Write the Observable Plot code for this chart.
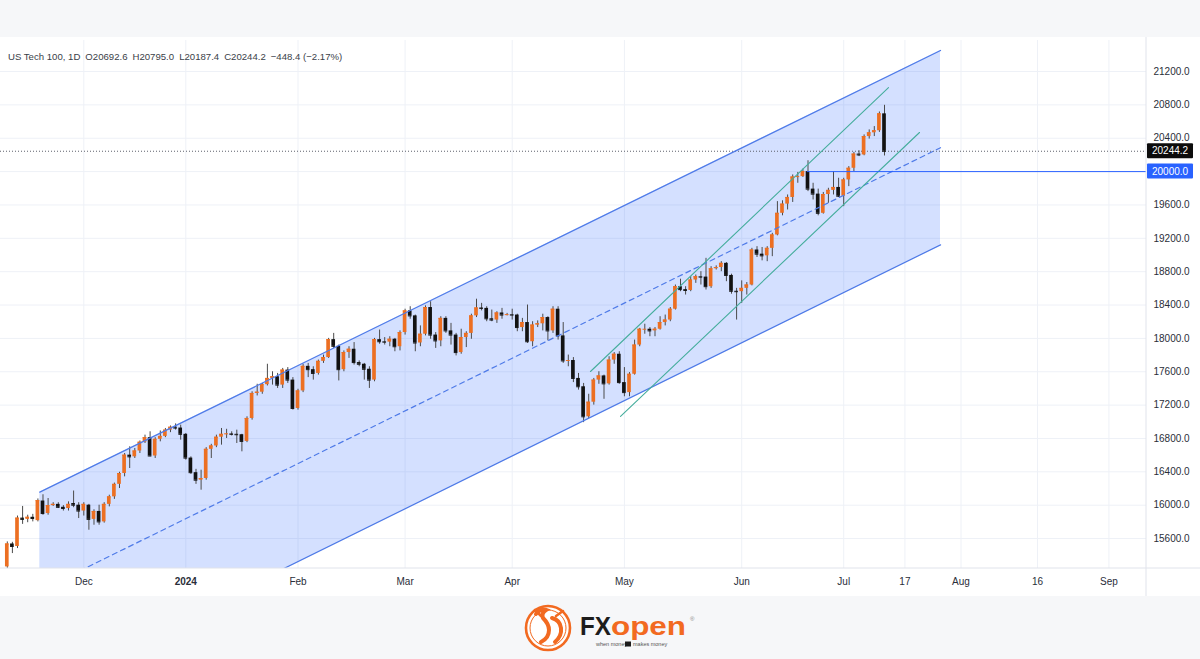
<!DOCTYPE html>
<html>
<head>
<meta charset="utf-8">
<script src="https://cdn.jsdelivr.net/npm/d3@7"></script>
<script src="https://cdn.jsdelivr.net/npm/@observablehq/plot@0.6"></script>
<style>
  html, body { margin: 0; padding: 0; }
  body { width: 1200px; height: 659px; overflow: hidden; background: #f6f7f9; font-family: "Liberation Sans", Arial, sans-serif; }
  #top { height: 37px; }
  #panel { position: relative; height: 559px; background: #ffffff; }
  #title { position: absolute; left: 8px; top: 14px; font-size: 9.6px; color: #3a3e48; white-space: pre; }
  #title span { margin-right: 5px; }
  #bottom { position: relative; height: 63px; }
</style>
</head>
<body>
<div id="top"></div>
<div id="panel">
  <div id="chart"></div>
  <div id="title"></div>
</div>
<div id="bottom">
  <svg width="1200" height="63" viewBox="0 0 1200 63">
    <g>
      <circle cx="548" cy="32" r="22" fill="#ffffff" stroke="#f26a21" stroke-width="2.6"/>
      <circle cx="548" cy="32" r="18" fill="none" stroke="#f26a21" stroke-width="1"/>
      <path d="M536 18 q4 -6 10 -4 q-5 3 -3 8 q6 6 6 12 q0 8 -8 12" fill="none" stroke="#f26a21" stroke-width="4" stroke-linecap="round"/>
      <path d="M552 22 q8 2 9 10 q1 8 -6 14" fill="none" stroke="#f26a21" stroke-width="4" stroke-linecap="round"/>
      <path d="M541 20 l-6 -6 M556 20 l7 -5" stroke="#f26a21" stroke-width="2.5" stroke-linecap="round"/>
    </g>
    <text x="580" y="39" font-family="Liberation Sans, Arial, sans-serif" font-weight="700" font-size="25" fill="#1c1c1c" textLength="31" lengthAdjust="spacingAndGlyphs">FX</text>
    <text x="611" y="39" font-family="Liberation Sans, Arial, sans-serif" font-weight="700" font-size="25" fill="#f26a21" textLength="75" lengthAdjust="spacingAndGlyphs">open</text>
    <text x="690" y="25" font-family="Liberation Sans, Arial, sans-serif" font-size="6" fill="#888">®</text>
    <text x="596" y="50" font-family="Liberation Sans, Arial, sans-serif" font-size="5.5" fill="#555">when money</text>
    <rect x="625" y="45.5" width="6" height="5" fill="#1c1c1c"/>
    <text x="633" y="50" font-family="Liberation Sans, Arial, sans-serif" font-size="5.5" fill="#555">makes money</text>
  </svg>
</div>
<script>
// ---------------- data ----------------
const titleParts = ["US Tech 100, 1D", "O20692.6", "H20795.0", "L20187.4", "C20244.2", "\u2212448.4 (\u22122.17%)"];

const dates = [
"2023-11-10","2023-11-13","2023-11-14","2023-11-15","2023-11-16","2023-11-17","2023-11-20","2023-11-21","2023-11-22","2023-11-23","2023-11-24","2023-11-27","2023-11-28","2023-11-29","2023-11-30",
"2023-12-01","2023-12-04","2023-12-05","2023-12-06","2023-12-07","2023-12-08","2023-12-11","2023-12-12","2023-12-13","2023-12-14","2023-12-15","2023-12-18","2023-12-19","2023-12-20","2023-12-21","2023-12-22","2023-12-26","2023-12-27","2023-12-28","2023-12-29",
"2024-01-02","2024-01-03","2024-01-04","2024-01-05","2024-01-08","2024-01-09","2024-01-10","2024-01-11","2024-01-12","2024-01-15","2024-01-16","2024-01-17","2024-01-18","2024-01-19","2024-01-22","2024-01-23","2024-01-24","2024-01-25","2024-01-26","2024-01-29","2024-01-30","2024-01-31",
"2024-02-01","2024-02-02","2024-02-05","2024-02-06","2024-02-07","2024-02-08","2024-02-09","2024-02-12","2024-02-13","2024-02-14","2024-02-15","2024-02-16","2024-02-19","2024-02-20","2024-02-21","2024-02-22","2024-02-23","2024-02-26","2024-02-27","2024-02-28","2024-02-29",
"2024-03-01","2024-03-04","2024-03-05","2024-03-06","2024-03-07","2024-03-08","2024-03-11","2024-03-12","2024-03-13","2024-03-14","2024-03-15","2024-03-18","2024-03-19","2024-03-20","2024-03-21","2024-03-22","2024-03-25","2024-03-26","2024-03-27","2024-03-28","2024-03-29",
"2024-04-01","2024-04-02","2024-04-03","2024-04-04","2024-04-05","2024-04-08","2024-04-09","2024-04-10","2024-04-11","2024-04-12","2024-04-15","2024-04-16","2024-04-17","2024-04-18","2024-04-19","2024-04-22","2024-04-23","2024-04-24","2024-04-25","2024-04-26","2024-04-29","2024-04-30",
"2024-05-01","2024-05-02","2024-05-03","2024-05-06","2024-05-07","2024-05-08","2024-05-09","2024-05-10","2024-05-13","2024-05-14","2024-05-15","2024-05-16","2024-05-17","2024-05-20","2024-05-21","2024-05-22","2024-05-23","2024-05-24","2024-05-27","2024-05-28","2024-05-29","2024-05-30","2024-05-31",
"2024-06-03","2024-06-04","2024-06-05","2024-06-06","2024-06-07","2024-06-10","2024-06-11","2024-06-12","2024-06-13","2024-06-14","2024-06-17","2024-06-18","2024-06-19","2024-06-20","2024-06-21","2024-06-24","2024-06-25","2024-06-26","2024-06-27","2024-06-28",
"2024-07-01","2024-07-02","2024-07-03","2024-07-04","2024-07-05","2024-07-08","2024-07-09","2024-07-10","2024-07-11"];

const opens = [
15260,15535,15505,15845,15830,15855,15815,16050,15900,15995,16010,15975,15960,16020,16000,
15930,16000,15830,15925,15800,16010,16100,16250,16380,16600,16580,16650,16755,16810,16590,16790,16825,16900,16935,16925,
16850,16565,16390,16300,16320,16670,16710,16815,16850,16855,16850,16845,16765,17040,17340,17355,17445,17520,17540,17440,17620,17500,
17160,17370,17665,17625,17580,17725,17770,17985,17905,17625,17830,17870,17710,17690,17630,17500,17985,17960,17955,17990,17900,
18070,18330,18270,17945,18050,18370,18040,17970,18240,18090,18040,17830,18010,18060,18270,18365,18360,18235,18220,18305,18280,
18285,18280,18130,18190,17960,18160,18175,18250,18090,18350,18030,17730,17735,17520,17420,17060,17235,17500,17550,17455,17740,17810,
17470,17350,17570,17920,18110,18110,18090,18110,18190,18220,18350,18620,18585,18575,18700,18740,18735,18620,18835,18850,18900,18755,18565,
18560,18600,18640,19060,19010,18990,19080,19240,19500,19610,19690,19935,19940,20000,19790,19730,19500,19725,19775,19810,
19705,19900,20040,20210,20200,20420,20465,20490,20692.6];

const highs = [
15560,15555,15870,15985,15880,15890,16075,16125,16080,16030,16030,15995,16040,16170,16030,
16030,16010,15945,16000,16030,16120,16265,16395,16620,16700,16680,16770,16840,16880,16810,16890,16920,16950,16975,16960,
16860,16580,16430,16420,16690,16730,16840,16920,16910,16880,16900,16850,17060,17360,17450,17460,17690,17600,17580,17640,17650,17530,
17390,17690,17700,17660,17740,17800,18000,18060,17920,17850,17900,17950,17730,17700,17660,18000,18100,18010,18020,18000,18090,
18350,18380,18280,18150,18390,18440,18070,18260,18260,18180,18060,18110,18080,18290,18470,18420,18380,18340,18320,18360,18300,
18350,18290,18240,18400,18200,18210,18290,18260,18380,18380,18190,17800,17770,17580,17460,17330,17520,17600,17560,17780,17830,17840,
17650,17590,17980,18120,18170,18130,18130,18260,18280,18370,18640,18710,18620,18740,18760,18800,18960,18860,18870,18920,18910,18770,18600,
18690,18670,19080,19100,19090,19100,19260,19640,19650,19720,19960,19990,20030,20130,19860,19790,19750,19800,20000,19920,
19920,20060,20230,20250,20440,20500,20540,20715,20795.0];

const lows = [
15240,15420,15480,15770,15790,15800,15800,15880,15880,15985,15960,15930,15930,15970,15840,
15870,15700,15760,15760,15785,15980,16070,16200,16340,16440,16560,16620,16740,16580,16560,16760,16810,16870,16900,16780,
16540,16370,16250,16180,16300,16560,16690,16720,16800,16830,16740,16640,16750,17020,17310,17330,17430,17440,17400,17400,17460,17140,
17140,17350,17530,17500,17560,17700,17760,17880,17490,17600,17760,17680,17660,17500,17400,17480,17930,17920,17900,17840,17850,
18040,18230,17840,17900,18030,17990,17880,17900,18060,17920,17790,17810,17890,17990,18250,18330,18200,18200,18180,18230,18270,
18220,18080,18080,17940,17900,18130,18090,17970,18060,17980,17700,17660,17470,17380,16990,17040,17200,17450,17270,17440,17690,17450,
17300,17300,17560,17900,18050,18020,18020,18100,18150,18200,18340,18560,18520,18560,18660,18640,18580,18600,18820,18800,18680,18530,18220,
18420,18520,18630,18970,18930,18920,18980,19230,19470,19540,19630,19860,19930,19760,19660,19470,19490,19620,19720,19690,
19580,19820,20000,20180,20190,20390,20420,20470,20187.4];

const closes = [
15535,15505,15845,15830,15855,15840,16055,15900,15995,16010,15975,15960,16010,16000,15930,
16010,15830,15925,15800,16010,16100,16250,16380,16600,16580,16650,16755,16810,16590,16790,16825,16900,16935,16925,16850,
16565,16390,16300,16320,16670,16710,16815,16850,16855,16850,16845,16765,17040,17340,17355,17445,17520,17540,17440,17620,17500,17160,
17370,17665,17625,17580,17725,17770,17985,17905,17625,17830,17870,17710,17690,17630,17500,17985,17960,17955,17990,17900,18070,
18330,18270,17945,18050,18370,18040,17970,18240,18090,18040,17830,18010,18060,18270,18365,18360,18235,18220,18305,18280,18285,
18280,18130,18190,17960,18160,18175,18250,18090,18350,18030,17730,17735,17520,17420,17060,17235,17500,17550,17455,17740,17810,17470,
17350,17570,17920,18110,18110,18090,18110,18190,18220,18350,18620,18585,18575,18700,18740,18735,18620,18835,18850,18900,18755,18565,18560,
18600,18640,19060,19010,18990,19080,19240,19500,19610,19690,19935,19940,20000,19790,19730,19500,19725,19775,19810,19705,
19900,20040,20210,20200,20420,20465,20490,20692.6,20244.2];

// bar index of the first candle (2023-11-10); 2023-11-14 is bar 0
const firstBar = -2;

// time-axis labels and the bar index each one sits on
const xTickLabels = ["Dec", "2024", "Feb", "Mar", "Apr", "May", "Jun", "Jul", "17", "Aug", "16", "Sep"];
const xTickBars   = [13, 33, 55, 76, 97, 119, 142, 162, 174, 185, 200, 214];

// price-axis ticks
const yTicks = [15600, 16000, 16400, 16800, 17200, 17600, 18000, 18400, 18800, 19200, 19600, 20000, 20400, 20800, 21200];

// drawings: parallel channel (bar index, price)
const channelBars  = [4.37, 180.98];
const channelUpper = [16156, 21452];
const channelLower = [13798, 19122];
const channelMid   = [14977, 20287];

// drawings: two green trend lines
const trendABars = [112.35, 170.78];
const trendA     = [17603, 21008];
const trendBBars = [118.24, 176.86];
const trendB     = [17064, 20469];

// horizontal level and last price
const levelPrice = 20000;
const levelStartBar = 154.9;
const lastPrice = 20244.2;

// ---------------- build ----------------
document.getElementById("title").innerHTML = titleParts.map(t => `<span>${t}</span>`).join("");

const bars = dates.map((d, k) => ({i: k + firstBar, date: d, o: opens[k], h: highs[k], l: lows[k], c: closes[k]}));
const channel = channelBars.map((b, k) => ({i: b, upper: channelUpper[k], lower: channelLower[k], mid: channelMid[k]}));
const tA = trendABars.map((b, k) => ({i: b, v: trendA[k]}));
const tB = trendBBars.map((b, k) => ({i: b, v: trendB[k]}));

const UP = "#ec6f22", DOWN = "#121212", WICK = "#4a4a4a";
const xDomain = [-3.333, 221.37];
const halfW = 0.36;

const chart = Plot.plot({
  width: 1200,
  height: 559,
  marginLeft: 0,
  marginRight: 54,
  marginTop: 3,
  marginBottom: 28,
  style: {fontFamily: "Liberation Sans, Arial, sans-serif", fontSize: "10px", color: "#2a2e39", background: "#ffffff", overflow: "visible"},
  x: {type: "linear", domain: xDomain, label: null},
  y: {domain: [15241, 21572], label: null},
  marks: [
    Plot.ruleY(yTicks, {stroke: "#eef1f7", strokeWidth: 1}),
    Plot.ruleX(xTickBars, {stroke: "#eef1f7", strokeWidth: 1}),
    Plot.areaY(channel, {x: "i", y1: "lower", y2: "upper", fill: "#2962ff", fillOpacity: 0.2, clip: true}),
    Plot.ruleY([lastPrice], {stroke: "#5d606b", strokeWidth: 1, strokeDasharray: "1,2"}),
    Plot.ruleX(bars, {x: "i", y1: "l", y2: "h", stroke: WICK, strokeWidth: 1}),
    Plot.rect(bars, {x1: d => d.i - halfW, x2: d => d.i + halfW, y1: "o", y2: "c", fill: d => d.c >= d.o ? UP : DOWN}),
    Plot.ruleY(bars, {y: "c", x1: d => d.i - halfW, x2: d => d.i + halfW, stroke: d => d.c >= d.o ? UP : DOWN, strokeWidth: 1}),
    Plot.line(channel, {x: "i", y: "upper", stroke: "#4f7be8", strokeWidth: 1.3, clip: true}),
    Plot.line(channel, {x: "i", y: "lower", stroke: "#4f7be8", strokeWidth: 1.3, clip: true}),
    Plot.line(channel, {x: "i", y: "mid", stroke: "#4f7be8", strokeWidth: 1.2, strokeDasharray: "5,4", clip: true}),
    Plot.line(tA, {x: "i", y: "v", stroke: "#45ad9c", strokeWidth: 1.1}),
    Plot.line(tB, {x: "i", y: "v", stroke: "#45ad9c", strokeWidth: 1.1}),
    Plot.ruleY([levelPrice], {x1: levelStartBar, x2: xDomain[1], stroke: "#2962ff", strokeWidth: 1}),
    Plot.axisX({ticks: xTickBars, tickFormat: d => xTickLabels[xTickBars.indexOf(d)], tickSize: 0, tickPadding: 9, fill: "#2a2e39", label: null}),
    Plot.axisY({anchor: "right", ticks: yTicks, tickFormat: d3.format(".1f"), tickSize: 0, tickPadding: 7, fill: "#2a2e39", label: null})
  ]
});

document.getElementById("chart").appendChild(chart);

// pane borders, bold year label and the price labels on the price axis
const svg = d3.select(chart);
const ys = chart.scale("y");
const xs = chart.scale("x");
const axisX = xs.apply(xDomain[1]);
const bottomY = ys.apply(15241);

svg.selectAll("text").filter(function() { return this.textContent === "2024"; }).attr("font-weight", "bold");

svg.append("line").attr("x1", axisX).attr("x2", axisX).attr("y1", 0).attr("y2", 559).attr("stroke", "#e0e3eb");
svg.append("line").attr("x1", 0).attr("x2", 1200).attr("y1", bottomY).attr("y2", bottomY).attr("stroke", "#e0e3eb");

function priceTag(value, bg, label) {
  const g = svg.append("g").attr("text-anchor", "start");
  const yy = ys.apply(value);
  g.append("rect").attr("x", axisX + 1).attr("y", yy - 7.5).attr("width", 46).attr("height", 15).attr("fill", bg).attr("rx", 1);
  g.append("text").attr("x", axisX + 6).attr("y", yy).attr("dy", "0.35em").attr("fill", "#ffffff")
    .attr("text-anchor", "start").attr("font-size", 10).attr("font-family", "Liberation Sans, Arial, sans-serif").text(label);
}
priceTag(lastPrice, "#0c0c0c", d3.format(".1f")(lastPrice));
priceTag(levelPrice, "#2962ff", d3.format(".1f")(levelPrice));
</script>
</body>
</html>
